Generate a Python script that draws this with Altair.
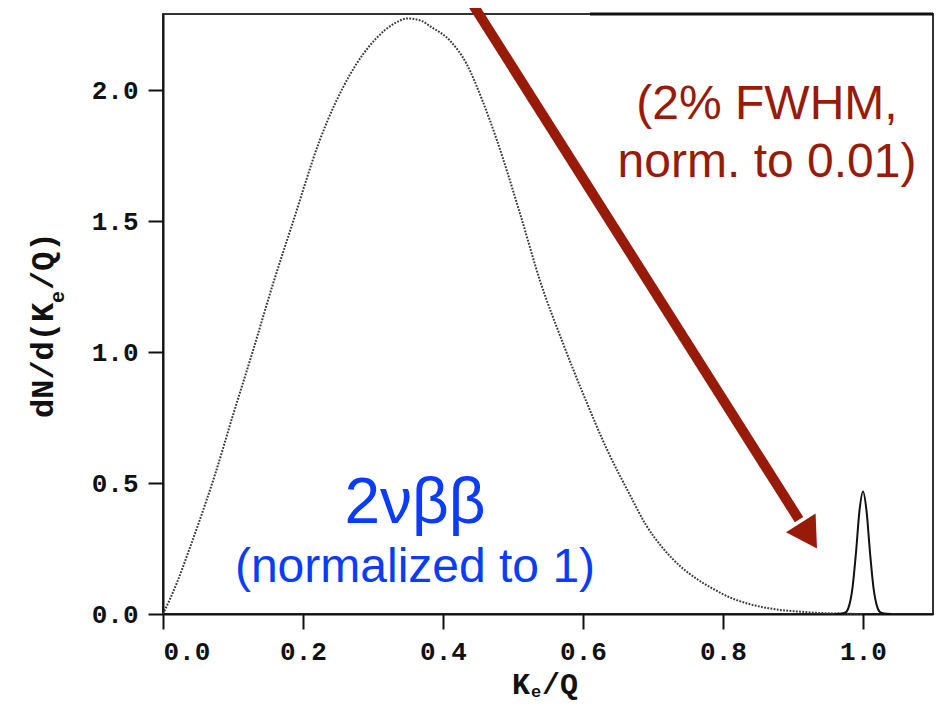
import altair as alt
import pandas as pd

# ---- data ----
# 2vbb summed-energy spectrum (dotted curve), normalized to 1
bb_x = [0.0, 0.02, 0.036, 0.05, 0.074, 0.1, 0.129, 0.157, 0.186, 0.224, 0.267,
        0.305, 0.33, 0.35, 0.37, 0.381, 0.41, 0.434, 0.455, 0.477, 0.51, 0.539,
        0.572, 0.605, 0.634, 0.667, 0.69, 0.714, 0.74, 0.762, 0.79, 0.81, 0.835,
        0.857, 0.88, 0.905, 0.93, 0.96, 1.0]
bb_y = [0.0, 0.12, 0.235, 0.34, 0.53, 0.76, 1.01, 1.26, 1.50, 1.81, 2.06,
        2.20, 2.255, 2.275, 2.265, 2.246, 2.19, 2.10, 1.97, 1.81, 1.53, 1.27,
        1.03, 0.81, 0.63, 0.455, 0.34, 0.252, 0.18, 0.135, 0.09, 0.063, 0.04,
        0.026, 0.016, 0.01, 0.005, 0.002, 0.0]

# 0vbb peak (solid curve), 2% FWHM, normalized to 0.01
pk_x = [0.96, 0.97, 0.975, 0.98, 0.985, 0.99, 0.995, 1.0, 1.005, 1.01, 1.015,
        1.02, 1.025, 1.03, 1.04]
pk_y = [0.0, 0.002, 0.006, 0.03, 0.10, 0.235, 0.395, 0.468, 0.395, 0.235, 0.10,
        0.03, 0.006, 0.002, 0.0]

x_ticks = [0.0, 0.2, 0.4, 0.6, 0.8, 1.0]
y_ticks = [0.0, 0.5, 1.0, 1.5, 2.0]
X_MAX = 1.1
Y_MAX = 2.292

# arrow (data coordinates): shaft start/end and head centre
arrow_x = [0.4386]
arrow_y = [2.345]
arrow_x2 = [0.9086]
arrow_y2 = [0.3607]
head_x = [0.9227]
head_y = [0.2989]

RED = "#981a08"
BLUE = "#0a3cff"
MONO = "Liberation Mono"
SANS = "Liberation Sans"

xs = alt.Scale(domain=[0, X_MAX], nice=False, zero=False)
ys = alt.Scale(domain=[0, Y_MAX], nice=False, zero=False)

axis_common = dict(
    title=None, grid=False, format=".1f",
    domainColor="#111", domainWidth=2,
    tickColor="#111", tickWidth=2, tickSize=15,
    labelFont=MONO, labelFontWeight="bold", labelFontSize=26,
    labelColor="#111",
)

bb_df = pd.DataFrame({"x": bb_x, "y": bb_y})
pk_df = pd.DataFrame({"x": pk_x, "y": pk_y})

X_ENC = alt.X("x:Q", scale=xs, title=None,
              axis=alt.Axis(values=x_ticks, labelPadding=9, **axis_common))
Y_ENC = alt.Y("y:Q", scale=ys, title=None,
              axis=alt.Axis(values=y_ticks, labelPadding=10, **axis_common))

dotted = alt.Chart(bb_df).mark_line(
    color="#3a3a3a", strokeWidth=2, strokeDash=[1.8, 1.4], interpolate="monotone"
).encode(x=X_ENC, y=Y_ENC)

peak = alt.Chart(pk_df).mark_line(
    color="#111", strokeWidth=2, interpolate="monotone"
).encode(x=X_ENC, y=Y_ENC)

arrow_df = pd.DataFrame({"x": arrow_x, "y": arrow_y, "x2": arrow_x2, "y2": arrow_y2})
shaft = alt.Chart(arrow_df).mark_rule(color=RED, strokeWidth=10, strokeCap="butt").encode(
    x=X_ENC, y=Y_ENC, x2="x2:Q", y2="y2:Q",
)

head_df = pd.DataFrame({"x": head_x, "y": head_y})
head = alt.Chart(head_df).mark_point(
    shape="triangle-right", size=1225, angle=57.7, filled=True,
    color=RED, opacity=1, strokeWidth=0
).encode(x=X_ENC, y=Y_ENC)

# ---- annotation texts (pixel positions inside the plot frame) ----
def label(text, px, py, size, color, font, weight="normal", align="center", angle=0):
    df = pd.DataFrame({"t": [text]})
    return alt.Chart(df).mark_text(
        align=align, baseline="alphabetic", fontSize=size, font=font,
        fontWeight=weight, color=color, angle=angle
    ).encode(x=alt.value(px), y=alt.value(py), text="t:N")

texts = [
    label("2νββ", 252, 509, 64, BLUE, SANS),
    label("(normalized to 1)", 252, 568, 48, BLUE, SANS),
    label("(2% FWHM,", 604, 105, 48, RED, SANS),
    label("norm. to 0.01)", 604, 163, 48, RED, SANS),
    # x-axis title  K_e/Q
    label("K", 349, 680, 30, "#111", MONO, "bold", "left"),
    label("e", 368, 683, 17, "#111", MONO, "bold", "left"),
    label("/Q", 379, 680, 30, "#111", MONO, "bold", "left"),
    # y-axis title  dN/d(K_e/Q)
    label("dN/d(K", -110, 404, 32, "#111", MONO, "bold", "left", 270),
    label("e", -99, 289, 20, "#111", MONO, "bold", "left", 270),
    label("/Q)", -110, 276, 32, "#111", MONO, "bold", "left", 270),
]

# darker segment of the top frame on the right
top_df = pd.DataFrame({"x": [0.61], "x2": [X_MAX], "y": [Y_MAX]})
top_seg = alt.Chart(top_df).mark_rule(color="#111", strokeWidth=3).encode(
    x=X_ENC, x2="x2:Q", y=Y_ENC,
)

chart = alt.layer(dotted, peak, top_seg, shaft, head, *texts).properties(
    width=770, height=600,
    autosize=alt.AutoSizeParams(type="none"),
    padding={"left": 155, "top": 6, "right": 3, "bottom": 88},
).configure_view(stroke="#333", strokeWidth=2)

chart.save("out.html", embed_options={"renderer": "svg", "actions": False})
